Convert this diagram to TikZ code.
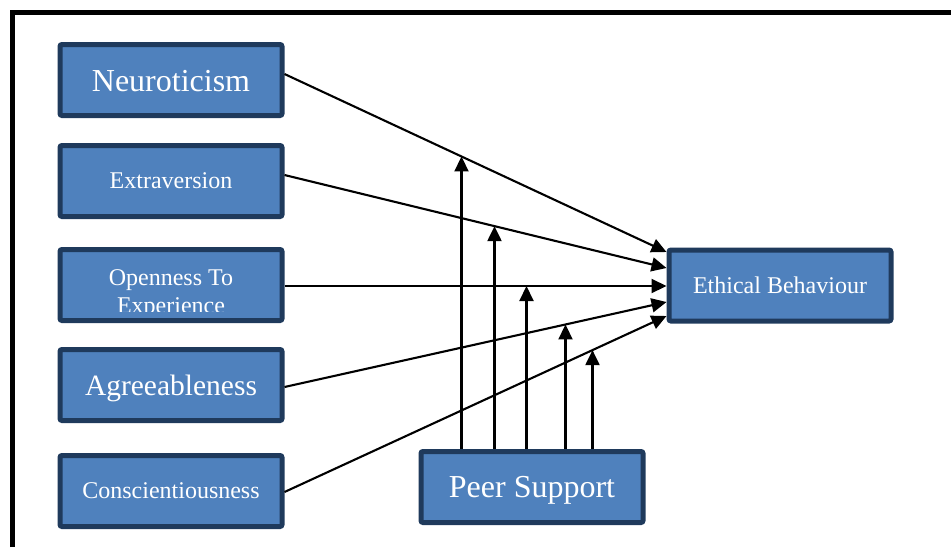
\documentclass[tikz,border=0pt]{standalone}
\usepackage{fontspec}
\setmainfont{Liberation Serif}
\usetikzlibrary{arrows.meta,calc}
\definecolor{boxfill}{HTML}{4F81BD}
\definecolor{boxline}{HTML}{1F3A5C}
\begin{document}
\begin{tikzpicture}[x=1pt,y=-1pt,
  factor/.style={draw=boxline,fill=boxfill,line width=5pt,rounded corners=2pt,
    minimum width=222pt,minimum height=71pt,inner sep=0pt,text=white,text depth=0pt},
  big/.style={font=\fontsize{32}{36}\selectfont},
  mid/.style={font=\fontsize{29.5}{34}\selectfont},
  small/.style={font=\fontsize{24}{28}\selectfont},
  link/.style={line width=2.1pt,-{Triangle[length=15pt,width=14pt]}},
  frame/.style={line width=5pt}]
\useasboundingbox (0,0) rectangle (951,547);
\draw[frame] (12.5,547) -- (12.5,12.5) -- (951,12.5);

\node[factor,big]   (N)  at (171,80)    {\raisebox{-2pt}{Neuroticism}};
\node[factor,small] (E)  at (171,181)   {Extraversion};
\node[factor]       (O)  at (171,285)   {};
\node[factor,mid]   (A)  at (171,385)   {Agreeableness};
\node[factor,small] (C)  at (171,491)   {Conscientiousness};
\node[factor,big]   (PS) at (532,487)   {Peer Support};
\node[factor,small] (EB) at (780,285.5) {Ethical Behaviour};

\begin{scope}
  \clip (60,250) rectangle (282,311);
  \node[small,text=white,anchor=base,inner sep=0pt] (Ot1) at (171,285) {Openness To};
  \node[small,text=white,anchor=base,inner sep=0pt] (Ot2) at (171,313) {Experience};
\end{scope}

% start and end points
\coordinate (sN) at ($(N.east)+(0,-6)$);
\coordinate (sE) at ($(E.east)+(0,-6)$);
\coordinate (sO) at ($(O.east)+(0,1)$);
\coordinate (sA) at ($(A.east)+(0,2)$);
\coordinate (sC) at ($(C.east)+(0,1)$);
\coordinate (tN) at (EB.west |- 0,252);
\coordinate (tE) at (EB.west |- 0,268);
\coordinate (tO) at (EB.west |- 0,286);
\coordinate (tA) at (EB.west |- 0,302);
\coordinate (tC) at (EB.west |- 0,316);

\draw[link] (sN) -- (tN);
\draw[link] (sE) -- (tE);
\draw[link] (sO) -- (tO);
\draw[link] (sA) -- (tA);
\draw[link] (sC) -- (tC);

% moderator arrows end on the lines
\coordinate (m1) at ($(sN)!{(461-284)/(666-284)}!(tN)$);
\coordinate (m2) at ($(sE)!{(494-284)/(666-284)}!(tE)$);
\coordinate (m3) at ($(sO)!{(526-284)/(666-284)}!(tO)$);
\coordinate (m4) at ($(sA)!{(565-284)/(666-284)}!(tA)$);
\coordinate (m5) at ($(sC)!{(592-284)/(666-284)}!(tC)$);

\draw[link] (PS.north -| m1) -- (m1);
\draw[link] (PS.north -| m2) -- (m2);
\draw[link] (PS.north -| m3) -- (m3);
\draw[link] (PS.north -| m4) -- (m4);
\draw[link] (PS.north -| m5) -- (m5);
\end{tikzpicture}
\end{document}
